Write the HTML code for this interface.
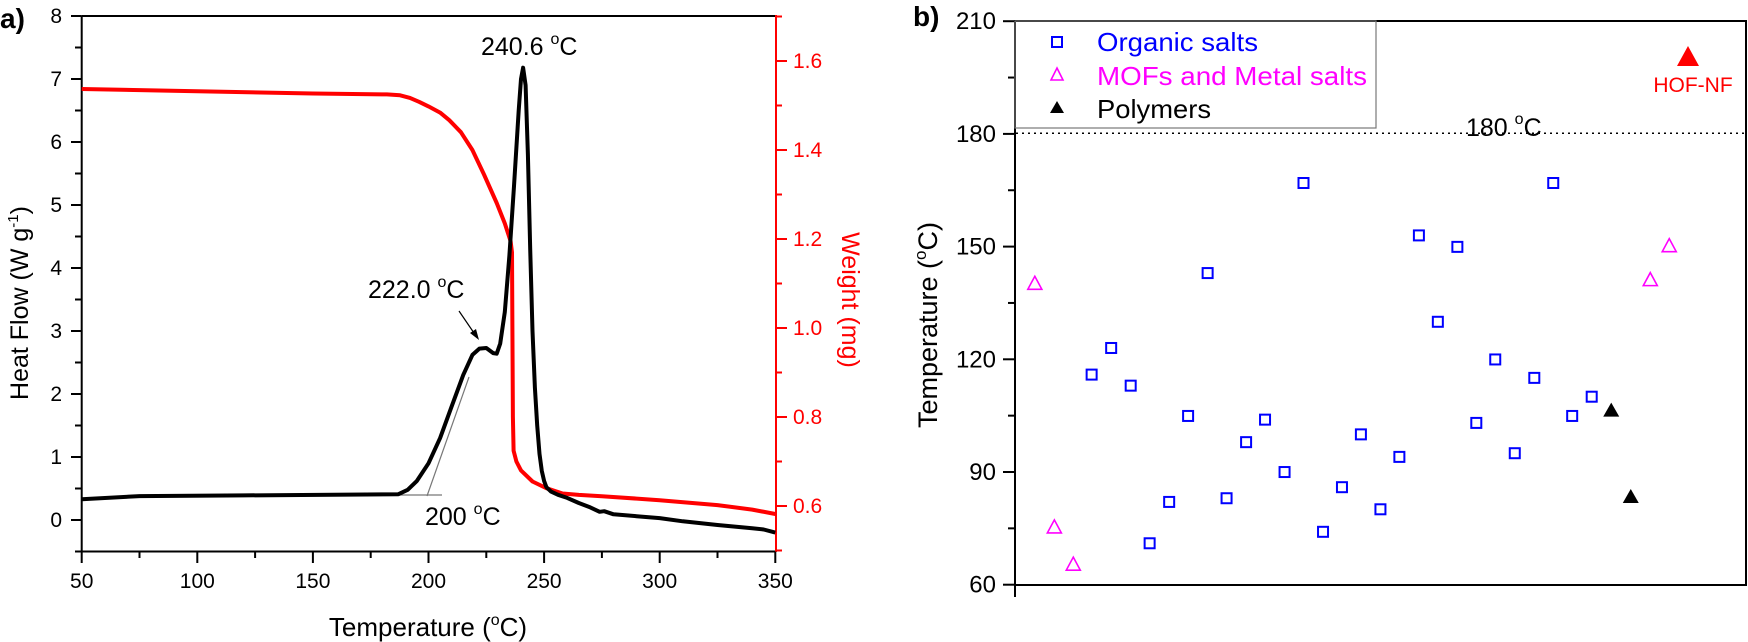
<!DOCTYPE html>
<html><head><meta charset="utf-8"><style>
html,body{margin:0;padding:0;background:#fff;}
svg{display:block;font-family:"Liberation Sans",Arial,sans-serif;}
</style></head><body>
<svg id="s" width="1748" height="642" viewBox="0 0 1748 642" xmlns="http://www.w3.org/2000/svg">
<!-- Chart a -->
<text x="0" y="28" font-size="28" font-weight="bold">a)</text>
<g stroke="#000" stroke-width="2" fill="none">
<line x1="81.7" y1="16" x2="776" y2="16"/>
<line x1="81.7" y1="16" x2="81.7" y2="551.5"/>
<line x1="81.7" y1="551.5" x2="776" y2="551.5"/>
</g>
<line x1="776" y1="15" x2="776" y2="552" stroke="#f00" stroke-width="2"/>
<g id="aticks" stroke="#000" stroke-width="2"></g>
<g id="rticks" stroke="#f00" stroke-width="2"></g>
<g font-size="21" text-anchor="end" id="alab"></g>
<g font-size="21" text-anchor="middle" id="xlab"></g>
<g font-size="21" fill="#f00" id="rlab"></g>
<text transform="translate(28,303) rotate(-90)" font-size="25" text-anchor="middle">Heat Flow (W g<tspan font-size="15" dy="-10">-1</tspan><tspan dy="10">)</tspan></text>
<text transform="translate(842,300) rotate(90)" font-size="25" text-anchor="middle" fill="#f00">Weight (mg)</text>
<text x="428" y="636" font-size="26" text-anchor="middle">Temperature (<tspan font-size="16" dy="-11">o</tspan><tspan dy="11">C)</tspan></text>
<!-- tangent lines -->
<g stroke="#777" stroke-width="1.2">
<line x1="398" y1="495" x2="442" y2="495"/>
<line x1="427" y1="496" x2="469" y2="377"/>
</g>
<polyline id="red" fill="none" stroke="#f00" stroke-width="4" stroke-linejoin="round"/>
<polyline id="blk" fill="none" stroke="#000" stroke-width="4" stroke-linejoin="round"/>
<text x="481" y="55" font-size="25">240.6 <tspan font-size="16" dy="-11">o</tspan><tspan dy="11">C</tspan></text>
<text x="368" y="298" font-size="25">222.0 <tspan font-size="16" dy="-11">o</tspan><tspan dy="11">C</tspan></text>
<line x1="459" y1="311" x2="474" y2="333" stroke="#000" stroke-width="1.2"/>
<polygon points="479,340 470,333 476,329" fill="#000"/>
<text x="425" y="525" font-size="25">200 <tspan font-size="16" dy="-11">o</tspan><tspan dy="11">C</tspan></text>

<!-- Chart b -->
<text x="913" y="26" font-size="28" font-weight="bold">b)</text>
<g stroke="#000" stroke-width="2" fill="none">
<rect x="1015" y="21" width="731" height="564"/>
<line x1="1015" y1="585" x2="1015" y2="597"/>
</g>
<g id="bticks" stroke="#000" stroke-width="2"></g>
<g font-size="24" text-anchor="end" id="blab"></g>
<text transform="translate(937,325) rotate(-90)" font-size="27" text-anchor="middle">Temperature (<tspan font-size="17" dy="-11">o</tspan><tspan dy="11">C)</tspan></text>
<line x1="1016" y1="133.3" x2="1745" y2="133.3" stroke="#000" stroke-width="1.5" stroke-dasharray="2,4"/>
<text x="1466" y="136" font-size="25">180 <tspan font-size="16" dy="-12">o</tspan><tspan dy="12">C</tspan></text>
<rect x="1015" y="21" width="361" height="107" fill="none" stroke="#777" stroke-width="1.2"/>
<rect x="1052" y="37" width="10" height="10" fill="none" stroke="#00f" stroke-width="2"/>
<polygon points="1057,68 1063,80 1051,80" fill="none" stroke="#f0f" stroke-width="1.6"/>
<polygon points="1057,101 1064,113 1050,113" fill="#000"/>
<text x="1097" y="51" font-size="26" fill="#00f" textLength="161" lengthAdjust="spacingAndGlyphs">Organic salts</text>
<text x="1097" y="85" font-size="26" fill="#f0f" textLength="270" lengthAdjust="spacingAndGlyphs">MOFs and Metal salts</text>
<text x="1097" y="118" font-size="26" fill="#000" textLength="114" lengthAdjust="spacingAndGlyphs">Polymers</text>
<polygon points="1688,46 1699,66 1677,66" fill="#f00"/>
<text x="1693" y="92" font-size="21" fill="#f00" text-anchor="middle">HOF-NF</text>
<g id="pts"></g>
</svg>
<script>
var NS="http://www.w3.org/2000/svg";
function el(p,t,a,txt){var e=document.createElementNS(NS,t);for(var k in a)e.setAttribute(k,a[k]);if(txt!=null)e.textContent=txt;document.getElementById(p).appendChild(e);return e;}
function X(t){return 81.7+(t-50)*2.312;}
function Y(h){return 520-63*h;}
function W(w){return 506-(w-0.6)*445;}
for(var h=-0.5;h<=8.01;h+=0.5){var y=Y(h);var maj=Math.abs(h-Math.round(h))<0.01;el("aticks","line",{x1:81.7,y1:y,x2:maj?71:75,y2:y});if(maj)el("alab","text",{x:62,y:y+7},String(Math.round(h)));}
for(var t=50;t<=350;t+=25){var x=X(t);var maj=t%50==0;el("aticks","line",{x1:x,y1:551.5,x2:x,y2:maj?563:558});if(maj)el("xlab","text",{x:x,y:588},String(t));}
for(var w=0.5;w<=1.701;w+=0.1){var y=W(w);var k=Math.round(w*10);var maj=k%2==0;el("rticks","line",{x1:776,y1:y,x2:maj?787:782,y2:y});if(maj)el("rlab","text",{x:793,y:y+7},(k/10).toFixed(1));}
var blk=[[50,0.33],[75,0.38],[120,0.39],[187,0.41],[191,0.48],[195,0.62],[200,0.9],[205,1.3],[210,1.8],[215,2.3],[219,2.62],[222,2.72],[225,2.73],[228,2.65],[229.5,2.64],[231,2.8],[233,3.3],[235,4.2],[237,5.3],[239,6.5],[240,7.0],[240.9,7.18],[242,6.9],[243,5.8],[244,4.3],[245,3.0],[246,2.1],[247,1.5],[248,1.05],[249,0.78],[250,0.62],[251,0.52],[253,0.45],[256,0.4],[260,0.35],[265,0.27],[270,0.2],[274,0.13],[276,0.14],[280,0.09],[290,0.06],[300,0.03],[310,-0.02],[325,-0.08],[340,-0.13],[345,-0.15],[350,-0.2]];
var red=[[50,1.537],[100,1.532],[150,1.527],[182,1.525],[187.7,1.523],[192,1.517],[196,1.508],[200,1.498],[205,1.484],[209,1.467],[214,1.44],[219,1.4],[224,1.345],[229.5,1.281],[233,1.235],[235.5,1.195],[236.1,1.17],[236.3,1.0],[236.5,0.8],[236.8,0.724],[238,0.7],[240,0.68],[245,0.655],[251,0.64],[258,0.628],[265,0.625],[275,0.622],[300,0.613],[325,0.602],[340,0.592],[350,0.582]];
document.getElementById("blk").setAttribute("points",blk.map(function(p){return X(p[0]).toFixed(1)+","+Y(p[1]).toFixed(1)}).join(" "));
document.getElementById("red").setAttribute("points",red.map(function(p){return X(p[0]).toFixed(1)+","+W(p[1]).toFixed(1)}).join(" "));
function BY(v){return 584.7-(v-60)*112.7/30;}
for(var v=60;v<=210;v+=15){var y=BY(v);var maj=v%30==0;el("bticks","line",{x1:1015,y1:y,x2:maj?1003:1008,y2:y});if(maj)el("blab","text",{x:996,y:y+8},String(v));}
function PX(p){return 820+p*0.5918;}function PY(p){return p*0.4094;}
var sq=[[459,915],[492,850],[525,942],[557,1327],[590,1226],[622,1016],[655,667],[687,1217],[720,1080],[752,1025],[785,1153],[817,447],[850,1299],[882,1190],[914,1061],[947,1244],[979,1116],[1012,575],[1044,786],[1077,603],[1109,1033],[1141,878],[1174,1107],[1207,923],[1239,447],[1271,1016],[1304,969]];
sq.forEach(function(p){var x=PX(p[0]),y=PY(p[1]);el("pts","rect",{x:x-5,y:y-5,width:10,height:10,fill:"none",stroke:"#00f","stroke-width":2});});
var mt=[[363,692],[396,1287],[428,1378],[1403,683],[1435,600]];
mt.forEach(function(p){var x=PX(p[0]),y=PY(p[1]);el("pts","polygon",{points:(x)+","+(y-7)+" "+(x+7)+","+(y+6)+" "+(x-7)+","+(y+6),fill:"none",stroke:"#f0f","stroke-width":1.6});});
var bt=[[1337,1003],[1370,1214]];
bt.forEach(function(p){var x=PX(p[0]),y=PY(p[1]);el("pts","polygon",{points:(x)+","+(y-8)+" "+(x+8)+","+(y+6)+" "+(x-8)+","+(y+6),fill:"#000"});});
</script>
</body></html>
